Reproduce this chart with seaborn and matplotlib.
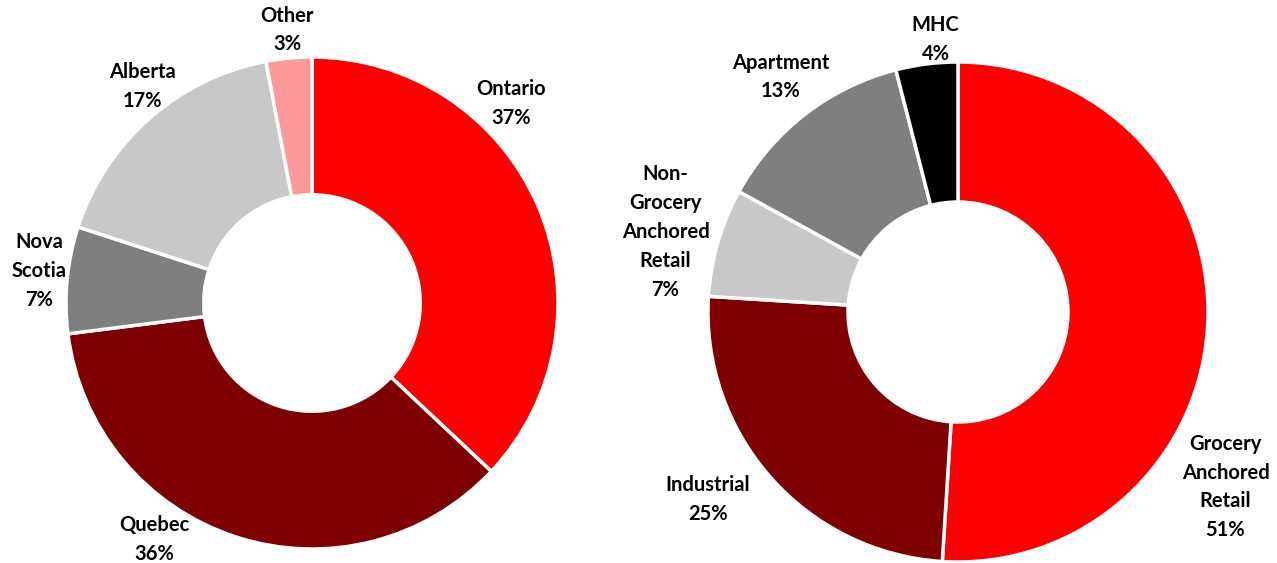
import matplotlib
matplotlib.use("Agg")
import matplotlib.pyplot as plt
import seaborn as sns

# ---- data ----
region_labels = ["Ontario", "Quebec", "Nova\nScotia", "Alberta", "Other"]
region_values = [37, 36, 7, 17, 3]
region_colors = ["#FF0000", "#7F0000", "#7F7F7F", "#C8C8C8", "#FF9999"]

asset_labels = ["Grocery\nAnchored\nRetail", "Industrial", "Non-\nGrocery\nAnchored\nRetail", "Apartment", "MHC"]
asset_values = [51, 25, 7, 13, 4]
asset_colors = ["#FF0000", "#7F0000", "#C8C8C8", "#7F7F7F", "#000000"]

# label anchor positions (in units of outer radius)
region_label_pos = [(0.81, 0.81), (-0.64, -0.96), (-1.11, 0.13), (-0.69, 0.88), (-0.10, 1.11)]
asset_label_pos = [(1.07, -0.70), (-1.0, -0.75), (-1.17, 0.32), (-0.71, 0.94), (-0.09, 1.09)]

sns.set_theme(style="white")
plt.rcParams["font.family"] = ["Lato", "DejaVu Sans"]

W, H = 1277, 563
fig = plt.figure(figsize=(W / 100, H / 100), dpi=100)
fig.patch.set_facecolor("white")


def donut(cx, cy, r, labels, values, colors, pos):
    ax = fig.add_axes([(cx - r) / W, (H - cy - r) / H, 2 * r / W, 2 * r / H])
    ax.pie(values, colors=colors, startangle=90, counterclock=False, radius=1.0,
           wedgeprops=dict(width=0.56, edgecolor="white", linewidth=2.5))
    ax.set_xlim(-1, 1)
    ax.set_ylim(-1, 1)
    ax.set_aspect("equal")
    ax.axis("off")
    for lab, v, (x, y) in zip(labels, values, pos):
        ax.text(x, y, f"{lab}\n{v}%", ha="center", va="center", fontsize=14.5,
                fontweight="bold", color="#000000", linespacing=1.55, clip_on=False)
    return ax


donut(312, 303, 246, region_labels, region_values, region_colors, region_label_pos)
donut(958, 312, 250, asset_labels, asset_values, asset_colors, asset_label_pos)

fig.savefig("out.png", dpi=100, facecolor="white")
